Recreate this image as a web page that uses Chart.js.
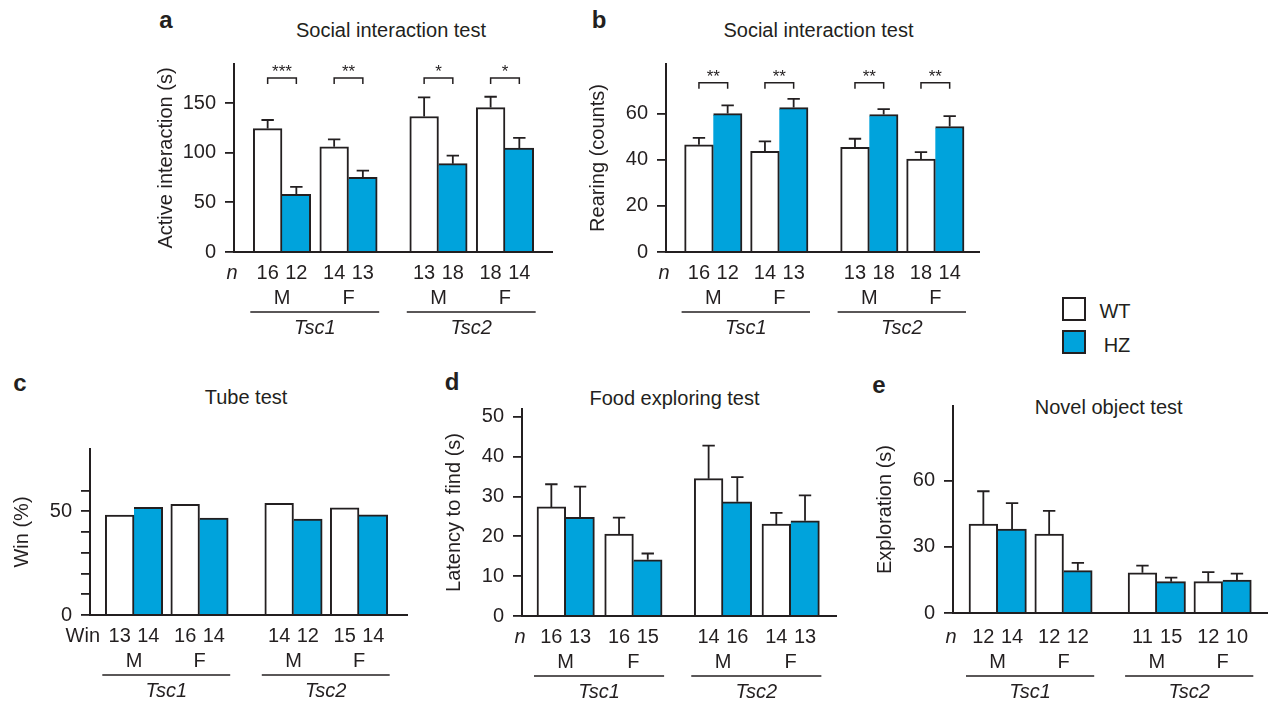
<!DOCTYPE html>
<html>
<head>
<meta charset="utf-8">
<script src="https://cdn.jsdelivr.net/npm/chart.js@4.4.1/dist/chart.umd.min.js"></script>
<style>
  html, body { margin: 0; padding: 0; background: #fff; }
  body { width: 1268px; height: 701px; position: relative; overflow: hidden;
         font-family: "Liberation Sans", Arial, Helvetica, sans-serif; color: #231f20; }
  canvas { position: absolute; }
  .t { position: absolute; white-space: nowrap; transform: translateX(-50%); }
  .sw { position: absolute; box-sizing: border-box; border: 2px solid #231f20; }
</style>
</head>
<body>
<script>
// ---------------- data ----------------
const seriesNames = ['WT', 'HZ'];
const genotypes = ['Tsc1', 'Tsc2'];
const sexLabels = ['M', 'F', 'M', 'F'];

// a: Social interaction test - active interaction (s)
const aWT = [124.3, 106.0, 136.5, 145.5];
const aWTsem = [8.7, 7.5, 19.3, 10.9];
const aHZ = [58.0, 75.3, 89.0, 104.8];
const aHZsem = [7.7, 6.7, 8.0, 10.2];
const aNWT = [16, 14, 13, 18];
const aNHZ = [12, 13, 18, 14];
const aSig = ['***', '**', '*', '*'];
const aTicks = [0, 50, 100, 150];
const aTickLabels = ['0', '50', '100', '150'];

// b: Social interaction test - rearing (counts)
const bWT = [46.5, 43.6, 45.4, 40.3];
const bWTsem = [3.0, 4.4, 3.7, 3.0];
const bHZ = [60.0, 62.6, 59.6, 54.4];
const bHZsem = [3.6, 3.8, 2.3, 4.5];
const bNWT = [16, 14, 13, 18];
const bNHZ = [12, 13, 18, 14];
const bSig = ['**', '**', '**', '**'];
const bTicks = [0, 10, 20, 30, 40, 50, 60, 70];
const bTickLabels = ['0', '', '20', '', '40', '', '60', ''];

// c: Tube test - win (%)
const cWT = [48.1, 53.3, 53.8, 51.7];
const cHZ = [51.9, 46.7, 46.2, 48.3];
const cWinWT = [13, 16, 14, 15];
const cWinHZ = [14, 14, 12, 14];
const cTicks = [0, 10, 20, 30, 40, 50, 60];
const cTickLabels = ['0', '', '', '', '', '50', ''];

// d: Food exploring test - latency to find (s)
const dWT = [27.4, 20.6, 34.5, 23.1];
const dWTsem = [5.7, 4.1, 8.3, 2.8];
const dHZ = [24.8, 14.1, 28.7, 23.9];
const dHZsem = [7.7, 1.6, 6.2, 6.4];
const dNWT = [16, 16, 14, 14];
const dNHZ = [13, 15, 16, 13];
const dTicks = [0, 10, 20, 30, 40, 50];
const dTickLabels = ['0', '10', '20', '30', '40', '50'];

// e: Novel object test - exploration (s)
const eWT = [40.2, 35.7, 18.2, 14.2];
const eWTsem = [14.9, 10.5, 3.2, 4.3];
const eHZ = [38.0, 19.2, 14.2, 14.9];
const eHZsem = [11.7, 3.5, 1.8, 2.9];
const eNWT = [12, 12, 11, 12];
const eNHZ = [14, 12, 15, 10];
const eTicks = [0, 30, 60];
const eTickLabels = ['0', '30', '60'];

// ---------------- styling / layout ----------------
const INK = '#231f20';
const BLUE = '#00a3dc';
const FONT = '"Liberation Sans", Arial, Helvetica, sans-serif';
Chart.defaults.font.family = FONT;
Chart.defaults.font.size = 20;
Chart.defaults.color = INK;

const Y_W = 80;      // width reserved for y axis (title + ticks)
const PAD_TOP = 12;
const X_H = 92;      // space below the axis for the n / sex / genotype rows
const BAR_W = 28.7;

const panels = {
  a: { axisX: 234, top: 55, base: 252, right: 553, yMax: 189.4, first: 48, unit: 66.5, gap: 1.353,
       wt: aWT, hz: aHZ, wtSem: aWTsem, hzSem: aHZsem, nWT: aNWT, nHZ: aNHZ, sig: aSig, sigLevel: 175.3,
       ticks: aTicks, tickLabels: aTickLabels, yTitle: 'Active interaction (s)', rowLabel: 'n', rowItalic: true, rowDy: 0 },
  b: { axisX: 666, top: 55, base: 252, right: 980, yMax: 81.5, first: 47.3, unit: 66, gap: 1.364,
       wt: bWT, hz: bHZ, wtSem: bWTsem, hzSem: bHZsem, nWT: bNWT, nHZ: bNHZ, sig: bSig, sigLevel: 73.4,
       ticks: bTicks, tickLabels: bTickLabels, yTitle: 'Rearing (counts)', rowLabel: 'n', rowItalic: true, rowDy: 0 },
  c: { axisX: 90, top: 440, base: 615, right: 408, yMax: 80, first: 44, unit: 65.5, gap: 1.435,
       wt: cWT, hz: cHZ, wtSem: null, hzSem: null, nWT: cWinWT, nHZ: cWinHZ, sig: null, sigLevel: 0,
       ticks: cTicks, tickLabels: cTickLabels, yTitle: 'Win (%)', rowLabel: 'Win', rowItalic: false, rowDy: 0 },
  d: { axisX: 522, top: 400, base: 616, right: 837, yMax: 52, first: 43.7, unit: 67.7, gap: 1.323,
       wt: dWT, hz: dHZ, wtSem: dWTsem, hzSem: dHZsem, nWT: dNWT, nHZ: dNHZ, sig: null, sigLevel: 0,
       ticks: dTicks, tickLabels: dTickLabels, yTitle: 'Latency to find (s)', rowLabel: 'n', rowItalic: true, rowDy: 0 },
  e: { axisX: 953, top: 397, base: 613, right: 1268, yMax: 93.7, first: 44.7, unit: 65.8, gap: 1.418,
       wt: eWT, hz: eHZ, wtSem: eWTsem, hzSem: eHZsem, nWT: eNWT, nHZ: eNHZ, sig: null, sigLevel: 0,
       ticks: eTicks, tickLabels: eTickLabels, yTitle: 'Exploration (s)', rowLabel: 'n', rowItalic: true, rowDy: 3 }
};

// HTML text (titles, panel letters, legend)
function addText(txt, cx, baseline, size, weight) {
  const d = document.createElement('div');
  d.className = 't';
  d.textContent = txt;
  d.style.fontSize = size + 'px';
  d.style.lineHeight = size + 'px';
  d.style.fontWeight = weight || 'normal';
  d.style.left = cx + 'px';
  d.style.top = (baseline - 0.8465 * size) + 'px';
  document.body.appendChild(d);
}
addText('a', 166, 28, 24, 'bold');
addText('b', 599, 28, 24, 'bold');
addText('c', 20, 391, 24, 'bold');
addText('d', 452, 390, 24, 'bold');
addText('e', 879, 393, 24, 'bold');
addText('Social interaction test', 391, 37, 20);
addText('Social interaction test', 818.5, 37, 20);
addText('Tube test', 246, 404, 20);
addText('Food exploring test', 674.5, 405, 20);
addText('Novel object test', 1108.7, 414, 20);

// legend
[[seriesNames[0], '#fff', 297, 1115, 318], [seriesNames[1], BLUE, 330, 1117, 352]].forEach(([name, col, top, tx, tb]) => {
  const s = document.createElement('div');
  s.className = 'sw';
  s.style.left = '1062px'; s.style.top = top + 'px';
  s.style.width = '24px'; s.style.height = '24px';
  s.style.background = col;
  document.body.appendChild(s);
  addText(name, tx, tb, 20);
});

// ---------------- plugin: error bars, brackets, bottom rows ----------------
const extras = {
  id: 'extras',
  afterDatasetsDraw(chart) {
    const p = panels[chart.canvas.id];
    const ctx = chart.ctx, ys = chart.scales.y;
    ctx.save();
    ctx.strokeStyle = INK;
    ctx.lineWidth = 1.8;
    chart.data.datasets.forEach((ds, di) => {
      if (!ds.sem) return;
      chart.getDatasetMeta(di).data.forEach((bar, i) => {
        const yTop = ys.getPixelForValue(ds.data[i].y + ds.sem[i]);
        ctx.beginPath();
        ctx.moveTo(bar.x, bar.y);
        ctx.lineTo(bar.x, yTop);
        ctx.moveTo(bar.x - 6.2, yTop);
        ctx.lineTo(bar.x + 6.2, yTop);
        ctx.stroke();
      });
    });
    if (p.sig) {
      const m0 = chart.getDatasetMeta(0).data, m1 = chart.getDatasetMeta(1).data;
      const yb = ys.getPixelForValue(p.sigLevel);
      ctx.lineWidth = 1.5;
      ctx.fillStyle = INK;
      ctx.font = '17px ' + FONT;
      ctx.textAlign = 'center';
      ctx.textBaseline = 'alphabetic';
      p.sig.forEach((s, i) => {
        const x1 = m0[i].x, x2 = m1[i].x;
        ctx.beginPath();
        ctx.moveTo(x1, yb + 6); ctx.lineTo(x1, yb); ctx.lineTo(x2, yb); ctx.lineTo(x2, yb + 6);
        ctx.stroke();
        ctx.fillText(s, (x1 + x2) / 2, yb - 1);
      });
    }
    ctx.restore();
  },
  afterDraw(chart) {
    const p = panels[chart.canvas.id];
    const ctx = chart.ctx, area = chart.chartArea;
    const base = area.bottom + p.rowDy;
    const m0 = chart.getDatasetMeta(0).data, m1 = chart.getDatasetMeta(1).data;
    ctx.save();
    ctx.fillStyle = INK;
    ctx.strokeStyle = INK;
    ctx.textBaseline = 'alphabetic';
    // row label
    if (p.rowItalic) {
      ctx.font = 'italic 20px ' + FONT;
      ctx.textAlign = 'center';
      ctx.fillText(p.rowLabel, area.left - 2, base + 27);
    } else {
      ctx.font = '20px ' + FONT;
      ctx.textAlign = 'right';
      ctx.fillText(p.rowLabel, area.left + 10, base + 27);
    }
    ctx.font = '20px ' + FONT;
    ctx.textAlign = 'center';
    m0.forEach((bar, i) => {
      ctx.fillText(String(p.nWT[i]), bar.x, base + 27);
      ctx.fillText(String(p.nHZ[i]), m1[i].x, base + 27);
      ctx.fillText(sexLabels[i], (bar.x + m1[i].x) / 2, base + 52);
    });
    genotypes.forEach((g, gi) => {
      const first = m0[gi * 2], last = m1[gi * 2 + 1];
      const x1 = first.x - first.width / 2 - 3;
      const x2 = last.x + last.width / 2 + 2;
      ctx.lineWidth = 1.5;
      ctx.beginPath();
      ctx.moveTo(x1, base + 60); ctx.lineTo(x2, base + 60);
      ctx.stroke();
      ctx.font = 'italic 20px ' + FONT;
      ctx.fillText(g, (x1 + x2) / 2, base + 82);
    });
    ctx.restore();
  }
};

// ---------------- build panels ----------------
Object.keys(panels).forEach(id => {
  const p = panels[id];
  const left = p.axisX - Y_W;
  const top = p.top - PAD_TOP;
  const w = p.right - left;
  const h = (p.base - p.top) + PAD_TOP + X_H;
  const cv = document.createElement('canvas');
  cv.id = id;
  cv.width = w; cv.height = h;
  cv.style.left = left + 'px'; cv.style.top = top + 'px';
  cv.style.width = w + 'px'; cv.style.height = h + 'px';
  document.body.appendChild(cv);

  // group positions on the x axis: genotype blocks separated by a gap
  const xs = sexLabels.map((s, i) => Math.floor(i / 2) * (1 + p.gap) + (i % 2));
  const xMin = -p.first / p.unit;
  const xMax = xMin + (p.right - p.axisX) / p.unit;

  new Chart(cv, {
    type: 'bar',
    data: {
      datasets: [
        { label: seriesNames[0], data: p.wt.map((v, i) => ({ x: xs[i], y: v })), sem: p.wtSem,
          backgroundColor: '#ffffff', borderColor: INK, borderSkipped: false,
          borderWidth: { top: 2, left: 2, right: 2, bottom: 0 } },
        { label: seriesNames[1], data: p.hz.map((v, i) => ({ x: xs[i], y: v })), sem: p.hzSem,
          backgroundColor: BLUE, borderColor: INK, borderSkipped: false,
          borderWidth: { top: 2, left: 0, right: 2, bottom: 0 } }
      ]
    },
    options: {
      responsive: false,
      animation: false,
      events: [],
      devicePixelRatio: 1,
      barThickness: BAR_W,
      layout: { padding: { top: PAD_TOP, left: 0, right: 0, bottom: 0 } },
      plugins: { legend: { display: false }, tooltip: { enabled: false }, title: { display: false } },
      scales: {
        x: {
          type: 'linear', min: xMin, max: xMax, offset: false,
          grid: { display: false, offset: false },
          ticks: { display: false },
          border: { display: true, color: INK, width: 2 },
          afterFit: s => { s.height = X_H; }
        },
        y: {
          type: 'linear', min: 0, max: p.yMax,
          afterBuildTicks: s => { s.ticks = p.ticks.map(v => ({ value: v })); },
          ticks: {
            padding: 9, color: INK, font: { size: 20 },
            callback: (v) => { const k = p.ticks.indexOf(v); return k >= 0 ? p.tickLabels[k] : ''; }
          },
          grid: { display: true, drawOnChartArea: false, drawTicks: true, tickLength: 9, color: INK, lineWidth: 1.8 },
          border: { display: true, color: INK, width: 2 },
          title: { display: true, text: p.yTitle, color: INK, font: { size: 20, lineHeight: 1.2 }, padding: 0 },
          afterFit: s => { s.width = Y_W; }
        }
      }
    },
    plugins: [extras]
  });
});
</script>
</body>
</html>
